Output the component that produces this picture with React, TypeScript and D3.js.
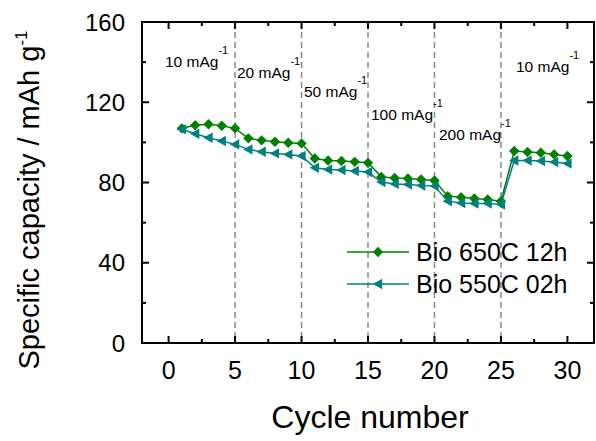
import React from "react";
import * as d3 from "d3";

const cycles = d3.range(1, 31);
const bio650 = [107, 108.5, 109, 108.3, 107, 102, 101, 100.3, 99.8, 99.5, 92, 91, 90.7, 90.3, 89.8, 82.8, 82.3, 82, 81.5, 81, 73.2, 72.7, 72, 71.5, 70.7, 95.7, 95.2, 94.8, 94, 93.2];
const bio550 = [106.5, 104.3, 102.3, 100.7, 99, 96.5, 95.3, 94.5, 94, 93.2, 87.3, 86.5, 86.2, 85.7, 85.2, 80.2, 79.3, 79, 78.5, 78.2, 70.7, 69.8, 69.5, 69.5, 69, 91, 91, 90.7, 90.2, 89.5];
const xTicks = [0, 5, 10, 15, 20, 25, 30];
const yTicks = [0, 40, 80, 120, 160];
const dividers = [5, 10, 15, 20, 25];
const rateLabels = [
  { text: "10 mAg", x: 165, y: 67 },
  { text: "20 mAg", x: 237, y: 78 },
  { text: "50 mAg", x: 304, y: 97 },
  { text: "100 mAg", x: 371, y: 120 },
  { text: "200 mAg", x: 439, y: 140 },
  { text: "10 mAg", x: 516, y: 72 },
];
const seriesNames = ["Bio 650C 12h", "Bio 550C 02h"];
const colors = ["#008000", "#008080"];

const FONT = "'Liberation Sans', Arial, sans-serif";

export default function App() {
  const W = 596, H = 441;
  const left = 142, right = 594, top = 22, bottom = 343;
  const x = d3.scaleLinear().domain([-2, 32]).range([left, right]);
  const y = d3.scaleLinear().domain([0, 160]).range([bottom, top]);
  const xMinor = d3.range(-2.5, 32, 2.5).filter((v) => v > -2 && v < 32);
  const yMinor = d3.range(0, 161, 20);
  const line = d3.line<number>().x((_, i) => x(cycles[i])).y((d) => y(d));
  const diamond = (cx: number, cy: number, r = 5.2) =>
    `M${cx},${cy - r}L${cx + r},${cy}L${cx},${cy + r}L${cx - r},${cy}Z`;
  const triLeft = (cx: number, cy: number, r = 5.2) =>
    `M${cx - r},${cy}L${cx + r * 0.8},${cy - r}L${cx + r * 0.8},${cy + r}Z`;

  return (
    <svg width={W} height={H} style={{ position: "absolute", left: 0, top: 0, background: "#fff" }} fontFamily={FONT}>
      <rect x={0} y={0} width={W} height={H} fill="#fff" />
      {dividers.map((d) => (
        <line key={d} x1={x(d)} x2={x(d)} y1={top} y2={bottom} stroke="#888" strokeWidth={1.5} strokeDasharray="6,4" />
      ))}
      {rateLabels.map((r, i) => (
        <text key={i} x={r.x} y={r.y} fontSize={15.5} fill="#000">
          {r.text}
          <tspan dy={-13} fontSize={11}>-1</tspan>
        </text>
      ))}
      <path d={line(bio650) || ""} fill="none" stroke={colors[0]} strokeWidth={1.5} />
      {bio650.map((v, i) => (
        <path key={i} d={diamond(x(cycles[i]), y(v))} fill={colors[0]} />
      ))}
      <path d={line(bio550) || ""} fill="none" stroke={colors[1]} strokeWidth={1.5} />
      {bio550.map((v, i) => (
        <path key={i} d={triLeft(x(cycles[i]), y(v))} fill={colors[1]} />
      ))}
      <rect x={left} y={top} width={right - left} height={bottom - top} fill="none" stroke="#000" strokeWidth={2} />
      {xTicks.map((t) => (
        <g key={t}>
          <line x1={x(t)} x2={x(t)} y1={bottom} y2={bottom - 7} stroke="#000" strokeWidth={2} />
          <line x1={x(t)} x2={x(t)} y1={top} y2={top + 7} stroke="#000" strokeWidth={2} />
          <text x={x(t)} y={bottom + 36} fontSize={25} textAnchor="middle">{t}</text>
        </g>
      ))}
      {xMinor.filter((v) => !xTicks.includes(v)).map((t) => (
        <g key={t}>
          <line x1={x(t)} x2={x(t)} y1={bottom} y2={bottom - 4} stroke="#000" strokeWidth={2} />
          <line x1={x(t)} x2={x(t)} y1={top} y2={top + 4} stroke="#000" strokeWidth={2} />
        </g>
      ))}
      {yTicks.map((t) => (
        <g key={t}>
          <line x1={left} x2={left + 7} y1={y(t)} y2={y(t)} stroke="#000" strokeWidth={2} />
          <line x1={right} x2={right - 7} y1={y(t)} y2={y(t)} stroke="#000" strokeWidth={2} />
          <text x={125} y={y(t) + 8.5} fontSize={24} textAnchor="end">{t}</text>
        </g>
      ))}
      {yMinor.filter((v) => !yTicks.includes(v)).map((t) => (
        <g key={t}>
          <line x1={left} x2={left + 4} y1={y(t)} y2={y(t)} stroke="#000" strokeWidth={2} />
          <line x1={right} x2={right - 4} y1={y(t)} y2={y(t)} stroke="#000" strokeWidth={2} />
        </g>
      ))}
      <text x={370} y={428} fontSize={32} textAnchor="middle">Cycle number</text>
      <text transform={`translate(39,200) rotate(-90)`} fontSize={29} textAnchor="middle">
        Specific capacity / mAh g<tspan dy={-12} fontSize={17}>-1</tspan>
      </text>
      {seriesNames.map((s, i) => {
        const ly = 252 + i * 32;
        return (
          <g key={s}>
            <line x1={347} x2={409} y1={ly} y2={ly} stroke={colors[i]} strokeWidth={1.5} />
            <path d={i === 0 ? diamond(378, ly) : triLeft(378, ly)} fill={colors[i]} />
            <text x={416} y={ly + 8.5} fontSize={25}>{s}</text>
          </g>
        );
      })}
    </svg>
  );
}
